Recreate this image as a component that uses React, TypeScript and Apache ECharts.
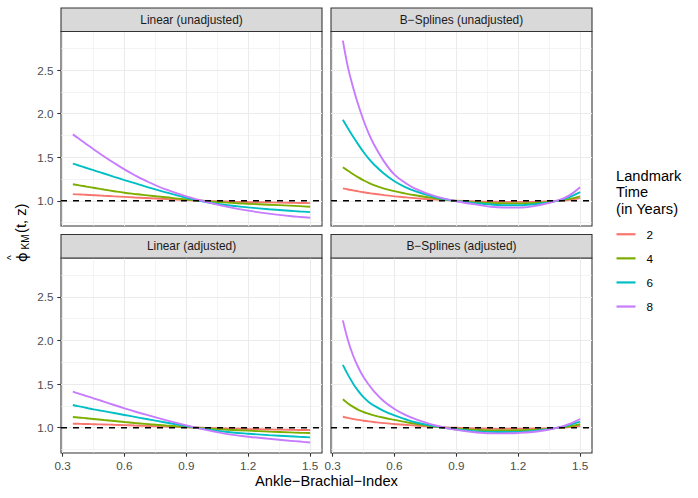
import React, { useEffect, useRef } from "react";
import * as echarts from "echarts";

// Ankle-Brachial-Index values at which the curves are read
const abi = [0.35, 0.375, 0.40, 0.425, 0.45, 0.475, 0.50, 0.55, 0.60, 0.65, 0.70, 0.80, 0.90, 1.00, 1.10, 1.20, 1.30, 1.40, 1.45, 1.50];

// Linear (unadjusted)
const linUnadj2 = [1.076, 1.073, 1.07, 1.067, 1.064, 1.061, 1.057, 1.051, 1.045, 1.038, 1.032, 1.02, 1.008, 0.998, 0.991, 0.985, 0.981, 0.977, 0.975, 0.973];
const linUnadj4 = [1.19, 1.18, 1.169, 1.159, 1.149, 1.139, 1.129, 1.11, 1.092, 1.078, 1.065, 1.04, 1.015, 0.995, 0.979, 0.966, 0.955, 0.944, 0.938, 0.931];
const linUnadj6 = [1.427, 1.408, 1.389, 1.37, 1.351, 1.332, 1.313, 1.275, 1.238, 1.202, 1.166, 1.097, 1.034, 0.983, 0.948, 0.924, 0.903, 0.885, 0.877, 0.87];
const linUnadj8 = [1.763, 1.72, 1.677, 1.635, 1.593, 1.552, 1.512, 1.434, 1.36, 1.293, 1.233, 1.13, 1.05, 0.985, 0.93, 0.886, 0.852, 0.825, 0.814, 0.805];

// B-Splines (unadjusted)
const bspUnadj2 = [1.142, 1.13, 1.119, 1.108, 1.098, 1.089, 1.08, 1.065, 1.051, 1.04, 1.03, 1.013, 1.001, 0.993, 0.988, 0.987, 0.99, 1.0, 1.012, 1.03];
const bspUnadj4 = [1.385, 1.345, 1.305, 1.268, 1.235, 1.205, 1.18, 1.14, 1.11, 1.085, 1.063, 1.027, 0.998, 0.982, 0.972, 0.97, 0.978, 1.002, 1.022, 1.05];
const bspUnadj6 = [1.93, 1.83, 1.735, 1.645, 1.56, 1.485, 1.42, 1.31, 1.225, 1.16, 1.11, 1.04, 0.997, 0.97, 0.952, 0.948, 0.965, 1.005, 1.045, 1.1];
const bspUnadj8 = [2.84, 2.53, 2.3, 2.1, 1.925, 1.775, 1.65, 1.45, 1.3, 1.21, 1.14, 1.05, 0.995, 0.955, 0.925, 0.921, 0.948, 1.01, 1.065, 1.155];

// Linear (adjusted)
const linAdj2 = [1.046, 1.045, 1.043, 1.042, 1.04, 1.038, 1.037, 1.033, 1.03, 1.025, 1.021, 1.013, 1.005, 0.998, 0.991, 0.985, 0.98, 0.976, 0.974, 0.973];
const linAdj4 = [1.123, 1.117, 1.112, 1.106, 1.1, 1.094, 1.088, 1.077, 1.065, 1.054, 1.044, 1.025, 1.008, 0.991, 0.977, 0.966, 0.955, 0.946, 0.942, 0.939];
const linAdj6 = [1.26, 1.247, 1.235, 1.222, 1.21, 1.2, 1.19, 1.168, 1.146, 1.124, 1.102, 1.06, 1.019, 0.981, 0.951, 0.931, 0.915, 0.902, 0.895, 0.889];
const linAdj8 = [1.414, 1.394, 1.375, 1.356, 1.337, 1.318, 1.299, 1.26, 1.222, 1.186, 1.152, 1.087, 1.027, 0.972, 0.927, 0.897, 0.873, 0.851, 0.841, 0.831];

// B-Splines (adjusted)
const bspAdj2 = [1.126, 1.112, 1.1, 1.089, 1.08, 1.072, 1.065, 1.052, 1.042, 1.033, 1.025, 1.009, 0.999, 0.991, 0.987, 0.988, 0.99, 1.0, 1.008, 1.02];
const bspAdj4 = [1.325, 1.277, 1.238, 1.205, 1.18, 1.16, 1.142, 1.114, 1.09, 1.066, 1.045, 1.01, 0.99, 0.975, 0.968, 0.97, 0.978, 1.0, 1.017, 1.04];
const bspAdj6 = [1.72, 1.605, 1.505, 1.42, 1.35, 1.295, 1.255, 1.19, 1.14, 1.1, 1.063, 1.015, 0.98, 0.958, 0.95, 0.952, 0.968, 1.003, 1.033, 1.07];
const bspAdj8 = [2.23, 2.0, 1.825, 1.69, 1.58, 1.495, 1.42, 1.3, 1.215, 1.15, 1.1, 1.025, 0.975, 0.945, 0.935, 0.94, 0.96, 1.005, 1.045, 1.1];

const landmarkTimes = ["2", "4", "6", "8"];
const panelTitles = ["Linear (unadjusted)", "B\u2212Splines (unadjusted)", "Linear (adjusted)", "B\u2212Splines (adjusted)"];
const panelValues = [
  [linUnadj2, linUnadj4, linUnadj6, linUnadj8],
  [bspUnadj2, bspUnadj4, bspUnadj6, bspUnadj8],
  [linAdj2, linAdj4, linAdj6, linAdj8],
  [bspAdj2, bspAdj4, bspAdj6, bspAdj8],
];
const xTicks = [0.3, 0.6, 0.9, 1.2, 1.5];
const xMinor = [0.45, 0.75, 1.05, 1.35];
const yTicks = [1.0, 1.5, 2.0, 2.5];
const yMinor = [0.75, 1.25, 1.75, 2.25, 2.75];
const refLine = 1.0;

const COLORS = ["#F8766D", "#7CAE00", "#00BFC4", "#C77CFF"];
const FONT = "'Liberation Sans', Arial, Helvetica, sans-serif";
const X_MIN = 0.2925;
const X_MAX = 1.5575;
const Y_MIN = 0.71;
const Y_MAX = 2.945;

const LAYOUT = [
  { left: 61, top: 31.5, width: 261, height: 194.5, stripTop: 8 },
  { left: 331, top: 31.5, width: 261, height: 194.5, stripTop: 8 },
  { left: 61, top: 258, width: 261, height: 195, stripTop: 234.5 },
  { left: 331, top: 258, width: 261, height: 195, stripTop: 234.5 },
];

export default function App() {
  const ref = useRef<HTMLDivElement>(null);

  useEffect(() => {
    if (!ref.current) return;
    const chart = echarts.init(ref.current, undefined, { renderer: "svg" });

    const grids: any[] = [];
    const xAxes: any[] = [];
    const yAxes: any[] = [];
    const series: any[] = [];
    const graphics: any[] = [];

    LAYOUT.forEach((p, i) => {
      const isBottom = i >= 2;
      const isLeft = i % 2 === 0;
      grids.push({
        left: p.left,
        top: p.top,
        width: p.width,
        height: p.height,
        show: true,
        backgroundColor: "#FFFFFF",
        borderColor: "#333333",
        borderWidth: 1.07,
        containLabel: false,
      });
      xAxes.push({
        type: "value",
        gridIndex: i,
        min: X_MIN,
        max: X_MAX,
        splitLine: { show: false },
        axisLine: { show: false },
        axisTick: {
          show: isBottom,
          customValues: xTicks,
          length: 3.7,
          lineStyle: { color: "#333333", width: 1.07 },
        },
        axisLabel: {
          show: isBottom,
          customValues: xTicks,
          formatter: (v: number) => v.toFixed(1),
          color: "#4D4D4D",
          fontSize: 11.7,
          fontFamily: FONT,
          margin: 6,
        },
      });
      yAxes.push({
        type: "value",
        gridIndex: i,
        min: Y_MIN,
        max: Y_MAX,
        splitLine: { show: false },
        axisLine: { show: false },
        axisTick: {
          show: isLeft,
          customValues: yTicks,
          length: 3.7,
          lineStyle: { color: "#333333", width: 1.07 },
        },
        axisLabel: {
          show: isLeft,
          customValues: yTicks,
          formatter: (v: number) => v.toFixed(1),
          color: "#4D4D4D",
          fontSize: 11.7,
          fontFamily: FONT,
          margin: 7.5,
        },
      });

      // grid lines
      series.push({
        type: "line",
        xAxisIndex: i,
        yAxisIndex: i,
        data: [[abi[0], refLine]],
        showSymbol: false,
        symbol: "none",
        silent: true,
        lineStyle: { width: 0, opacity: 0 },
        z: 1,
        markLine: {
          silent: true,
          symbol: ["none", "none"],
          label: { show: false },
          animation: false,
          z: 1,
          lineStyle: { color: "#EBEBEB", type: "solid", width: 1.1 },
          data: [
            ...xMinor.map((v) => ({ xAxis: v, lineStyle: { color: "#EBEBEB", type: "solid", width: 0.55 } })),
            ...yMinor.map((v) => ({ yAxis: v, lineStyle: { color: "#EBEBEB", type: "solid", width: 0.55 } })),
            ...xTicks.map((v) => ({ xAxis: v, lineStyle: { color: "#EBEBEB", type: "solid", width: 1.1 } })),
            ...yTicks.map((v) => ({ yAxis: v, lineStyle: { color: "#EBEBEB", type: "solid", width: 1.1 } })),
          ],
        },
      });

      // curves
      panelValues[i].forEach((vals, j) => {
        series.push({
          type: "line",
          name: landmarkTimes[j],
          xAxisIndex: i,
          yAxisIndex: i,
          data: abi.map((x, k) => [x, vals[k]]),
          showSymbol: false,
          symbol: "none",
          smooth: 0.4,
          lineStyle: { color: COLORS[j], width: 1.9 },
          itemStyle: { color: COLORS[j] },
          z: 3,
        });
      });

      // dashed reference line at 1
      series.push({
        type: "line",
        xAxisIndex: i,
        yAxisIndex: i,
        data: [
          [X_MIN, refLine],
          [X_MAX, refLine],
        ],
        showSymbol: false,
        symbol: "none",
        silent: true,
        lineStyle: { color: "#000000", width: 1.6, type: [6, 6] },
        z: 5,
      });

      // strip
      graphics.push({
        type: "rect",
        shape: { x: p.left, y: p.stripTop, width: p.width, height: p.top - p.stripTop },
        style: { fill: "#D9D9D9", stroke: "#333333", lineWidth: 1.07 },
        z: 10,
      });
      graphics.push({
        type: "text",
        x: p.left + p.width / 2,
        y: (p.stripTop + p.top) / 2,
        style: {
          text: panelTitles[i],
          fontSize: 11.9,
          fontFamily: FONT,
          fill: "#1A1A1A",
          align: "center",
          verticalAlign: "middle",
          textAlign: "center",
          textVerticalAlign: "middle",
        },
        z: 11,
      });
    });

    // axis titles
    graphics.push({
      type: "text",
      x: 326.5,
      y: 481,
      style: {
        text: "Ankle\u2212Brachial\u2212Index",
        fontSize: 14.7,
        fontFamily: FONT,
        fill: "#000000",
        align: "center",
        verticalAlign: "middle",
        textAlign: "center",
        textVerticalAlign: "middle",
      },
    });
    const tStyle = (text: string, size: number, fam = FONT) => ({
      text,
      fontSize: size,
      fontFamily: fam,
      fill: "#000000",
      align: "left",
      verticalAlign: "middle",
      textAlign: "left",
      textVerticalAlign: "middle",
    });
    graphics.push({
      type: "group",
      x: 21,
      y: 237,
      rotation: Math.PI / 2,
      children: [
        { type: "text", x: -25, y: 0, style: tStyle("\u03D5", 14.7, "'DejaVu Sans', sans-serif") },
        { type: "text", x: -23, y: -10, style: tStyle("^", 10) },
        { type: "text", x: -12.5, y: 4.5, style: tStyle("KM", 10) },
        { type: "text", x: 4, y: 0, style: tStyle("(t, z)", 14.7) },
      ],
    });
    // legend title
    graphics.push({
      type: "text",
      x: 616,
      y: 168,
      style: {
        text: "Landmark\nTime\n(in Years)",
        fontSize: 14.7,
        lineHeight: 16.2,
        fontFamily: FONT,
        fill: "#000000",
        align: "left",
        verticalAlign: "top",
        textAlign: "left",
        textVerticalAlign: "top",
      },
    });

    chart.setOption({
      animation: false,
      backgroundColor: "#FFFFFF",
      grid: grids,
      xAxis: xAxes,
      yAxis: yAxes,
      series,
      legend: {
        data: landmarkTimes,
        orient: "vertical",
        left: 616.5,
        top: 222.2,
        padding: 0,
        itemGap: 0,
        itemWidth: 19,
        itemHeight: 2.2,
        icon: "rect",
        selectedMode: false,
        textStyle: {
          fontSize: 11.7,
          fontFamily: FONT,
          color: "#000000",
          lineHeight: 24.1,
          padding: [0, 0, 0, 6],
        },
      },
      graphic: graphics,
    });

    return () => chart.dispose();
  }, []);

  return (
    <div
      ref={ref}
      style={{ position: "fixed", left: 0, top: 0, width: 698, height: 498, background: "#FFFFFF" }}
    />
  );
}
